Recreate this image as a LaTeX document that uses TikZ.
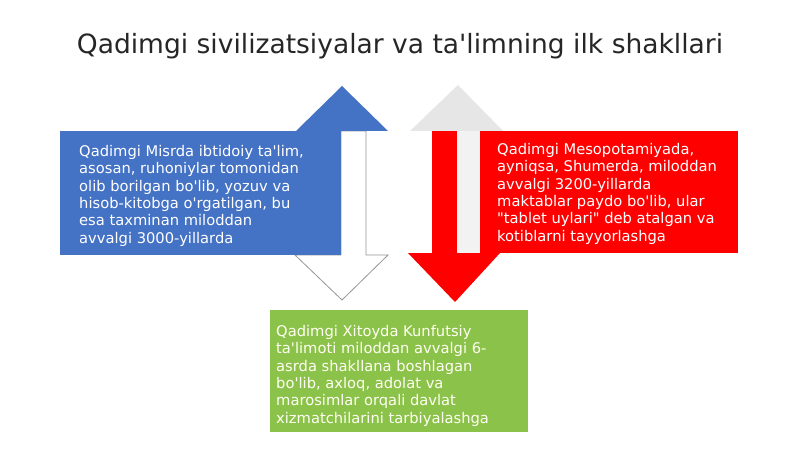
\documentclass[tikz,border=0pt]{standalone}
\usepackage{fontspec}
\setmainfont{DejaVu Sans}[Ligatures=TeXOff]
\definecolor{pblue}{RGB}{68,114,196}
\definecolor{pred}{RGB}{255,0,0}
\definecolor{pgreen}{RGB}{139,195,74}
\definecolor{pgreyhead}{RGB}{230,230,230}
\definecolor{pgreyshaft}{RGB}{242,242,242}
\definecolor{poutline}{RGB}{150,150,150}
\tikzset{
  boxtext/.style={anchor=north west, align=left, text=white, inner sep=0pt,
    font=\fontsize{14.7}{17.4}\selectfont},
  titletext/.style={font=\fontsize{26.5}{30}\selectfont, text=black!85}
}
\begin{document}
\begin{tikzpicture}[x=1pt,y=-1pt]
\useasboundingbox[fill=white] (0,0) rectangle (800,449);
% title
\node[titletext] (title) at (400,46) {Qadimgi sivilizatsiyalar va ta'limning ilk shakllari};
% left: white down arrow with grey outline
\draw[fill=white, draw=poutline, line width=0.8pt, line join=miter]
  (341,131) -- (366,131) -- (366,255) -- (388,255) -- (342,300) -- (295,255) -- (341,255) -- cycle;
% blue box and blue up head
\fill[pblue] (60,131) rectangle (341,255);
\fill[pblue] (296,131) -- (342,86) -- (388,131) -- cycle;
% right: red down arrow and box
\fill[pred] (432,131) rectangle (738,253);
\fill[pred] (408,253) -- (500,253) -- (455,302) -- cycle;
% grey up arrow
\fill[pgreyshaft] (457,131) rectangle (480,253);
\fill[pgreyhead] (410,131) -- (458,85) -- (503,131) -- cycle;
% green box
\fill[pgreen] (270,310) rectangle (528,432);
% texts
\node[boxtext] (egypt) at (79,145) {Qadimgi Misrda ibtidoiy ta'lim,\\asosan, ruhoniylar tomonidan\\olib borilgan bo'lib, yozuv va\\hisob-kitobga o'rgatilgan, bu\\esa taxminan miloddan\\avvalgi 3000-yillarda};
\node[boxtext] (meso) at (497,143) {Qadimgi Mesopotamiyada,\\ayniqsa, Shumerda, miloddan\\avvalgi 3200-yillarda\\maktablar paydo bo'lib, ular\\"tablet uylari" deb atalgan va\\kotiblarni tayyorlashga};
\node[boxtext, text=white!95!yellow] (china) at (276,325) {Qadimgi Xitoyda Kunfutsiy\\ta'limoti miloddan avvalgi 6-\\asrda shakllana boshlagan\\bo'lib, axloq, adolat va\\marosimlar orqali davlat\\xizmatchilarini tarbiyalashga};
\end{tikzpicture}
\end{document}
